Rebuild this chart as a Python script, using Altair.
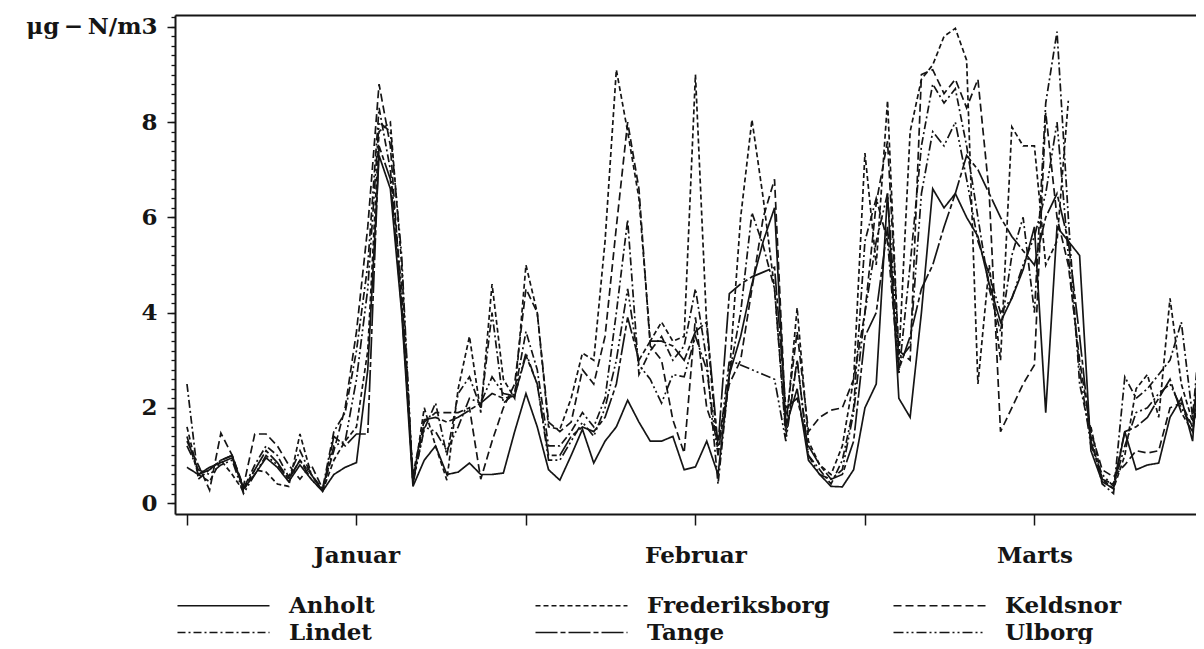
import altair as alt
import pandas as pd

days = list(range(91))

anholt = [0.75, 0.6, 0.75, 0.85, 0.95, 0.3, 0.6, 0.95, 0.75, 0.45,
          0.8, 0.5, 0.25, 0.6, 0.75, 0.85, 2.8, 7.3, 6.6, 4.0,
          0.35, 0.9, 1.2, 0.6, 0.65, 0.84, 0.6, 0.6, 0.63, 1.5,
          2.3, 1.6, 0.7, 0.48, 1.0, 1.55, 0.84, 1.3, 1.6, 2.16,
          1.7, 1.3, 1.3, 1.4, 0.7, 0.76, 1.3, 0.6, 2.7, 3.5,
          4.6, 5.5, 6.2, 1.6, 2.4, 0.9, 0.6, 0.35, 0.34, 0.7,
          2.0, 2.5, 6.5, 2.2, 1.8, 4.0, 6.6, 6.2, 6.5, 6.0,
          5.6, 4.6, 3.8, 4.3, 4.9, 5.8, 1.9, 5.8, 5.5, 5.2,
          1.1, 0.45, 0.3, 1.5, 0.7, 0.8, 0.84, 1.8, 2.2, 1.3, 4.6]

frederiksborg = [1.6, 0.6, 0.45, 0.9, 0.6, 0.25, 0.7, 0.65, 0.4, 0.35,
                 1.45, 0.6, 0.25, 0.9, 1.3, 1.6, 3.2, 7.8, 8.0, 5.0,
                 0.4, 2.0, 1.2, 0.48, 2.4, 3.5, 1.9, 4.6, 2.6, 2.2,
                 5.0, 4.0, 1.6, 1.55, 2.2, 3.15, 3.0, 5.5, 9.1, 7.8,
                 6.4, 3.4, 3.8, 3.4, 3.5, 9.0, 3.7, 1.0, 2.7, 6.0,
                 8.05, 6.4, 4.5, 1.5, 4.1, 1.3, 0.8, 0.6, 1.2, 2.6,
                 7.35, 5.0, 8.45, 3.0, 7.8, 8.9, 9.2, 9.8, 9.97, 9.3,
                 2.5, 5.0, 3.0, 7.9, 7.5, 7.5, 5.0, 5.5, 8.45, None,
                 1.6, 0.5, 0.3, 1.0, 2.4, 2.7, 1.8, 4.3, 2.5, 1.7, 3.8]

keldsnor = [1.3, 0.8, 0.27, 1.47, 1.0, 0.35, 1.45, 1.45, 1.2, 0.8,
            0.5, 0.8, 0.3, 1.1, 2.0, 3.6, 5.8, 8.8, 7.5, 4.2,
            0.5, 1.7, 1.9, 1.9, 1.9, 2.0, 0.5, 1.3, 2.0, 2.5,
            4.5, 4.0, 1.7, 1.5, 1.7, 2.8, 2.5, 3.5, 5.8, 8.0,
            6.6, 3.3, 3.0, 1.75, 1.05, 3.9, 2.0, 1.3, 2.5, 3.0,
            4.5, 6.0, 6.8, 1.7, 3.6, 1.5, 1.8, 1.95, 2.0, 2.6,
            4.0, 6.3, 7.6, 3.2, 3.0, 9.0, 9.1, 8.6, 8.9, 8.3,
            8.9, 6.5, 1.5, 2.0, 2.5, 2.9, 8.2, 6.0, 5.0, 3.0,
            1.5, 0.7, 0.55, 0.8, 1.1, 1.05, 1.1, 2.0, 2.1, 1.6, 2.6]

lindet = [2.5, 0.5, 0.7, 0.9, 1.0, 0.3, 0.8, 1.2, 1.0, 0.55,
          1.1, 0.6, 0.3, 1.5, 1.9, 3.2, 5.0, 8.3, 7.0, 4.5,
          0.45, 1.55, 2.1, 1.0, 2.3, 2.65, 2.0, 4.0, 2.1, 2.3,
          3.6, 2.8, 1.2, 1.2, 1.5, 1.9, 1.6, 2.2, 4.0, 5.95,
          2.7, 3.2, 3.5, 3.0, 3.3, 4.5, 3.0, 0.4, 2.7, 4.0,
          6.1, 5.4, 4.5, 1.4, 3.0, 1.0, 0.7, 0.4, 0.9, 2.0,
          5.5, 6.4, 5.5, 2.7, 5.0, 7.5, 8.8, 8.4, 8.7, 7.5,
          6.0, 4.5, 3.6, 5.2, 6.0, 4.0, 8.4, 9.9, 6.0, 2.5,
          1.4, 0.4, 0.2, 2.65, 2.2, 2.4, 2.7, 3.0, 3.8, 1.8, 4.5]

tange = [1.4, 0.6, 0.7, 0.9, 1.0, 0.3, 0.7, 1.1, 0.85, 0.5,
         0.9, 0.6, 0.25, 1.4, 1.2, 1.45, 1.45, 7.5, 6.8, 4.1,
         0.6, 1.75, 1.8, 1.7, 1.8, 1.95, 2.1, 2.3, 2.2, 2.25,
         3.1, 2.5, 1.0, 1.0, 1.4, 1.6, 1.5, 1.8, 2.5, 3.9,
         3.0, 3.4, 3.4, 3.3, 3.0, 3.6, 3.8, 1.2, 4.4, 4.6,
         4.75, 4.85, 4.95, 2.0, 2.2, 1.2, 0.8, 0.5, 0.6, 1.3,
         3.5, 4.0, 5.8, 2.8, 3.5, 4.5, 5.0, 5.8, 6.5, 7.3,
         7.0, 6.5, 6.0, 5.6, 5.3, 5.0, 6.0, 6.5, 5.5, 3.5,
         1.3, 0.5, 0.4, 1.5, 1.6, 1.8, 2.2, 2.6, 1.9, 1.5, 3.0]

ulborg = [1.2, 0.7, 0.6, 0.8, 0.9, 0.2, 0.6, 1.0, 0.8, 0.5,
          0.9, 0.5, 0.25, 1.2, 1.3, 2.6, 4.5, 8.0, 7.8, 5.2,
          0.4, 1.6, 1.5, 1.1, 1.6, 2.2, 2.1, 2.65, 2.3, 2.25,
          3.15, 2.5, 0.9, 0.9, 1.3, 1.7, 1.4, 2.0, 3.0, 4.5,
          2.9, 2.6, 2.1, 2.7, 2.65, 3.5, 2.8, 1.0, 3.0, 2.9,
          2.8, 2.7, 2.6, 1.3, 3.0, 1.0, 0.6, 0.5, 0.7, 1.9,
          4.0, 5.5, 6.5, 3.0, 3.3, 6.5, 7.8, 7.5, 8.0, 6.8,
          5.5, 4.8, 4.0, 4.3, 5.0, 5.6, 6.5, 8.0, 5.2, 2.8,
          1.2, 0.6, 0.35, 1.2, 1.9, 2.0, 2.3, 2.5, 2.0, 1.6, 3.2]

stations = ["Anholt", "Frederiksborg", "Keldsnor", "Lindet", "Tange", "Ulborg"]
series = [anholt, frederiksborg, keldsnor, lindet, tange, ulborg]
dashes = [[1, 0], [5, 3], [8, 4], [8, 3, 2, 3], [22, 3, 5, 3], [10, 3, 2, 3, 2, 3]]

x_ticks = [0, 15, 30, 45, 60, 75]
y_major = [0, 2, 4, 6, 8, 10]
y_minor = [round(i * 0.2, 1) for i in range(52)]

rows = []
for name, vals in zip(stations, series):
    for d, v in zip(days, vals):
        rows.append({"day": d, "value": v, "station": name})
df = pd.DataFrame(rows)

FONT = "DejaVu Serif"
INK = "#151515"
W, H = 1021, 499

xs = alt.Scale(domain=[-1.06, 89.3], nice=False, zero=False)
ys = alt.Scale(domain=[-0.23, 10.25], nice=False, zero=False)

x_label_expr = ("datum.value == 15 ? 'Januar' : datum.value == 45 ? 'Februar' : "
                "datum.value == 75 ? 'Marts' : ''")
y_label_expr = "datum.value == 10 ? 'μg\u2009−\u2009N/m3' : datum.label"

lines = alt.Chart(df).mark_line(
    strokeWidth=1.7, color=INK, clip=True, invalid="break-paths-show-domains"
).encode(
    x=alt.X("day:Q", scale=xs, title=None,
            axis=alt.Axis(orient="bottom", values=x_ticks, labelExpr=x_label_expr,
                          tickSize=11, tickWidth=1.5, tickColor=INK,
                          domainColor=INK, domainWidth=2, grid=False,
                          labelFont=FONT, labelFontWeight="bold", labelFontSize=23,
                          labelColor=INK, labelPadding=19, labelFlush=False)),
    y=alt.Y("value:Q", scale=ys, title=None,
            axis=alt.Axis(orient="left", values=y_major, labelExpr=y_label_expr,
                          tickSize=8, tickWidth=1.5, tickColor=INK,
                          domainColor=INK, domainWidth=2, grid=False,
                          labelFont=FONT, labelFontWeight="bold", labelFontSize=23,
                          labelColor=INK, labelPadding=10, labelLimit=300)),
    strokeDash=alt.StrokeDash(
        "station:N",
        scale=alt.Scale(domain=stations, range=dashes),
        legend=alt.Legend(title=None, orient="none", legendX=36, legendY=578,
                          direction="horizontal", columns=3, gridAlign="all",
                          columnPadding=60, rowPadding=2,
                          symbolType="M-4,0H4", symbolSize=529,
                          symbolStrokeWidth=1.7, symbolStrokeColor=INK,
                          labelFont=FONT, labelFontWeight="bold", labelFontSize=23,
                          labelColor=INK, labelOffset=53, labelLimit=400,
                          padding=0),
    ),
)

frame = alt.Chart(pd.DataFrame({"day": [0], "value": [0]})).mark_point(opacity=0).encode(
    x=alt.X("day:Q", scale=xs, title=None,
            axis=alt.Axis(orient="top", labels=False, ticks=False, domain=True,
                          domainColor=INK, domainWidth=2, grid=False)),
    y=alt.Y("value:Q", scale=ys, title=None,
            axis=alt.Axis(orient="left", values=y_minor, labels=False, tickSize=4,
                          tickWidth=1.3, tickColor=INK, domain=False, grid=False)),
)

chart = alt.layer(lines, frame).resolve_axis(
    x="independent", y="independent"
).properties(
    width=W, height=H,
    padding={"left": 167, "top": 7, "right": 0, "bottom": 130},
    autosize=alt.AutoSizeParams(type="none"),
).configure_view(strokeWidth=0).configure(background="white")

chart.save("out.html", embed_options={"renderer": "svg", "actions": False})
